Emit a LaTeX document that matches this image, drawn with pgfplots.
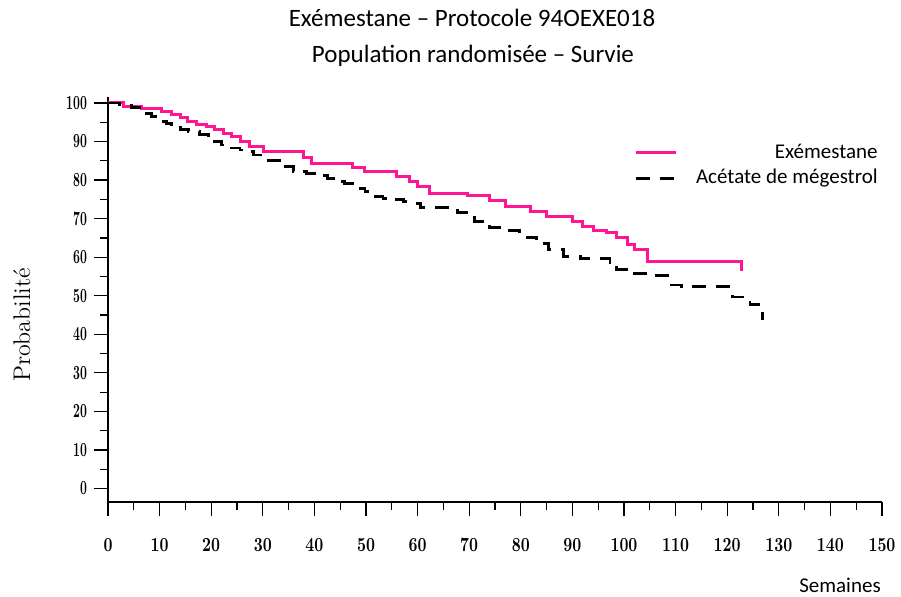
\documentclass[border=0pt]{standalone}
\usepackage{fontspec}
\usepackage{graphicx}
\usepackage{pgfplots}
\pgfplotsset{compat=1.18}
\newfontfamily\carlito{Carlito}
\definecolor{exepink}{RGB}{255,20,147}

\begin{document}
\begin{tikzpicture}
\path[use as bounding box] (0,0) rectangle (450.5pt,298pt);
\begin{axis}[
  at={(54pt,47pt)}, anchor=south west,
  scale only axis, width=387pt, height=202.4pt,
  xmin=0, xmax=150, ymin=-3.5, ymax=101.5,
  axis x line=bottom, axis y line=left,
  axis line style={-, line width=0.6pt},
  xtick={0,10,...,150}, ytick={0,10,...,100},
  minor x tick num=1, minor y tick num=1,
  tick align=outside, major tick length=7pt, minor tick length=4pt,
  every tick/.style={black, line width=0.6pt},
  /pgf/number format/assume math mode=true,
  xticklabel={\scalebox{0.78}[1]{\fontsize{10}{10}\selectfont\bfseries\pgfmathprintnumber{\tick}}},
  yticklabel={\scalebox{0.6}[1]{\fontsize{10}{10}\selectfont\bfseries\pgfmathprintnumber{\tick}}},
  xticklabel shift=7.5pt,
  clip=false,
  legend cell align=right,
  legend style={at={(axis cs:150,90.5)}, anchor=north east, draw=none, fill=none,
    font=\carlito\fontsize{10.5}{12}\selectfont, row sep=0pt, inner sep=0pt},
  legend image code/.code={\path[draw=none, fill=none] (0pt,0pt) -- (28pt,0pt); \draw[#1] (0pt,0pt) -- (20pt,0pt);},
]
\addplot[const plot, exepink, line width=1.5pt] coordinates {
(0,100) (3,99.2) (6.5,98.5) (10.4,97.7) (12.3,96.9) (14,96.2) (15.5,95.3)
(17.2,94.5) (19.1,93.9) (20.7,93.2) (22.3,92.2) (24,91.3) (25.6,90.0)
(27.5,88.8) (30.1,87.3) (37.8,85.8) (39.5,84.4) (47.3,83.2) (49.8,82.2)
(56,80.9) (58.5,79.6) (60,78.3) (62.4,76.6) (69.6,75.9) (74,74.6) (77,73.2)
(81.8,71.8) (85,70.5) (90,69.3) (92,68.0) (94,66.8) (96.7,66.3) (98.6,65.0)
(100.6,63.3) (102.1,62.0) (104.5,58.9) (122.7,56.8) (123.0,56.8)
};
\addlegendentry{Exémestane}
\addplot[const plot, black, line width=1.4pt, dash pattern=on 7pt off 5pt] coordinates {
(0,100) (2.3,99.5) (4.5,98.8) (6.2,98.2) (7.5,97.3) (8.5,96.5) (9.7,95.3)
(11.3,94.7) (12.3,93.6) (14,93.2) (15.6,92.6) (17.8,91.9) (19.4,90.9)
(20.7,90.0) (22,89.1) (24,88.3) (25.6,87.8) (27.1,87.4) (28.2,86.5) (30,86.1)
(31,85.0) (33.3,83.5) (35.9,82.2) (38.5,81.8) (41.1,81.1) (42.6,80.5)
(44,79.6) (45.9,79.2) (48.2,77.9) (49.8,77.0) (50.8,75.7) (53.3,75.3)
(54.7,74.9) (57.2,74.4) (59.1,74.0) (60.5,72.8) (67.8,71.5) (71.1,69.3)
(74,67.6) (76.9,66.9) (79.8,65.2) (83.1,63.5) (85.3,61.9) (88.2,60.2)
(91.5,59.6) (97.3,58.6) (98.6,56.9) (101.7,55.7) (105,55.2) (108.9,52.8)
(111.2,52.4) (121,49.7) (123,49.0) (124.4,47.7) (126.9,44.0) (127.0,44.0)
};
\addlegendentry{Acétate de mégestrol}
\end{axis}
\node[font=\carlito\fontsize{12.5}{14}\selectfont] at (236pt,289pt) {Exémestane – Protocole 94OEXE018};
\node[font=\carlito\fontsize{12.5}{14}\selectfont] at (236.5pt,270pt) {Population randomisée – Survie};
\node[font=\carlito\fontsize{10.5}{12}\selectfont, inner sep=0pt] at (420pt,5.5pt) {Semaines};
\node[font=\fontsize{12}{14}\selectfont, rotate=90] at (11pt,135.5pt) {Probabilité};
\end{tikzpicture}
\end{document}
